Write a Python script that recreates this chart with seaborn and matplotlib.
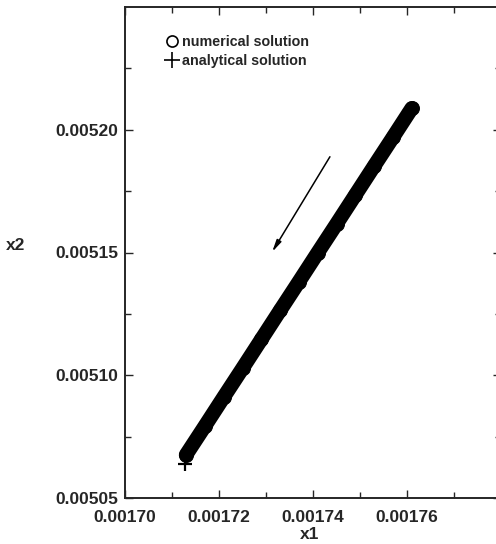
import matplotlib
matplotlib.use("Agg")
import matplotlib.pyplot as plt
from matplotlib.lines import Line2D
import seaborn as sns
import pandas as pd

# numerical solution (dense trajectory)
num_x1 = [0.001713, 0.001717, 0.001721, 0.001725, 0.001729, 0.001733, 0.001737,
          0.001741, 0.001745, 0.001749, 0.001753, 0.001757, 0.001761]
num_x2 = [0.0050676, 0.0050793, 0.0050911, 0.0051028, 0.0051146, 0.0051264, 0.0051381,
          0.0051499, 0.0051616, 0.0051734, 0.0051852, 0.0051969, 0.0052087]
# analytical solution
ana_x1 = [0.0017128, 0.001717, 0.001721, 0.001725, 0.001729, 0.001733, 0.001737,
          0.001741, 0.001745, 0.001749, 0.001753, 0.001757, 0.0017605]
ana_x2 = [0.0050640, 0.0050793, 0.0050911, 0.0051028, 0.0051146, 0.0051264, 0.0051381,
          0.0051499, 0.0051616, 0.0051734, 0.0051852, 0.0051969, 0.0052075]

x_ticks = [0.00170, 0.00172, 0.00174, 0.00176]
x_tick_labels = ["0.00170", "0.00172", "0.00174", "0.00176"]
y_ticks = [0.00505, 0.00510, 0.00515, 0.00520]
y_tick_labels = ["0.00505", "0.00510", "0.00515", "0.00520"]
legend_labels = ["numerical solution", "analytical solution"]
arrow_tail = (0.0017436, 0.0051890)
arrow_head = (0.0017313, 0.0051502)

sns.set_style("ticks")
plt.rcParams["font.family"] = ["Liberation Sans", "DejaVu Sans"]
plt.rcParams["font.weight"] = "bold"

fig = plt.figure(figsize=(4.96, 5.44), dpi=100)
ax = fig.add_axes([125 / 496, 1 - 498 / 544, 376 / 496, 491 / 544])

num_df = pd.DataFrame({"x1": num_x1, "x2": num_x2})
ana_df = pd.DataFrame({"x1": ana_x1, "x2": ana_x2})

sns.lineplot(data=num_df, x="x1", y="x2", ax=ax, color="black", linewidth=10.5,
             sort=False, solid_capstyle="round", marker="o", markersize=10,
             markerfacecolor="black", markeredgecolor="black")
sns.scatterplot(data=ana_df, x="x1", y="x2", ax=ax, marker="+", s=110,
                color="black", linewidth=1.6)

ax.annotate("", xy=arrow_head, xytext=arrow_tail,
            arrowprops=dict(arrowstyle="-|>,head_length=0.7,head_width=0.15",
                            color="black", lw=1.1, shrinkA=0, shrinkB=0))

ax.set_xlim(0.00170, 0.00178)
ax.set_ylim(0.00505, 0.00525)
ax.set_xticks(x_ticks)
ax.set_xticklabels(x_tick_labels)
ax.set_yticks(y_ticks)
ax.set_yticklabels(y_tick_labels)
ax.set_xticks([0.00171, 0.00173, 0.00175, 0.00177], minor=True)
ax.set_yticks([0.005075, 0.005125, 0.005175, 0.005225], minor=True)
ax.tick_params(axis="both", which="both", direction="in", top=True, right=True,
               labelsize=12.5, width=1.0)
ax.tick_params(axis="x", which="both", pad=9)
ax.tick_params(axis="y", which="both", pad=5)
ax.tick_params(which="major", length=6)
ax.tick_params(which="minor", length=4)
for lab in ax.get_xticklabels() + ax.get_yticklabels():
    lab.set_fontweight("bold")
for s in ax.spines.values():
    s.set_linewidth(1.4)

ax.set_xlabel("x1", fontsize=12.5, fontweight="bold")
ax.set_ylabel("x2", fontsize=12.5, fontweight="bold", rotation=0)
ax.yaxis.set_label_coords(-0.29, 0.5)
ax.xaxis.set_label_coords((310 - 125) / 376, -0.06)

handles = [Line2D([], [], linestyle="none", marker="o", markersize=8,
                  markerfacecolor="none", markeredgecolor="black", markeredgewidth=1.2),
           Line2D([], [], linestyle="none", marker="+", markersize=11,
                  color="black", markeredgewidth=1.2)]
leg = ax.legend(handles, legend_labels, loc="upper left", bbox_to_anchor=(0.095, 0.955),
                frameon=False, handlelength=0.8, handletextpad=0.3, labelspacing=0.35,
                borderaxespad=0, prop={"size": 10.3, "weight": "bold"})

fig.savefig("out.png", dpi=100)
